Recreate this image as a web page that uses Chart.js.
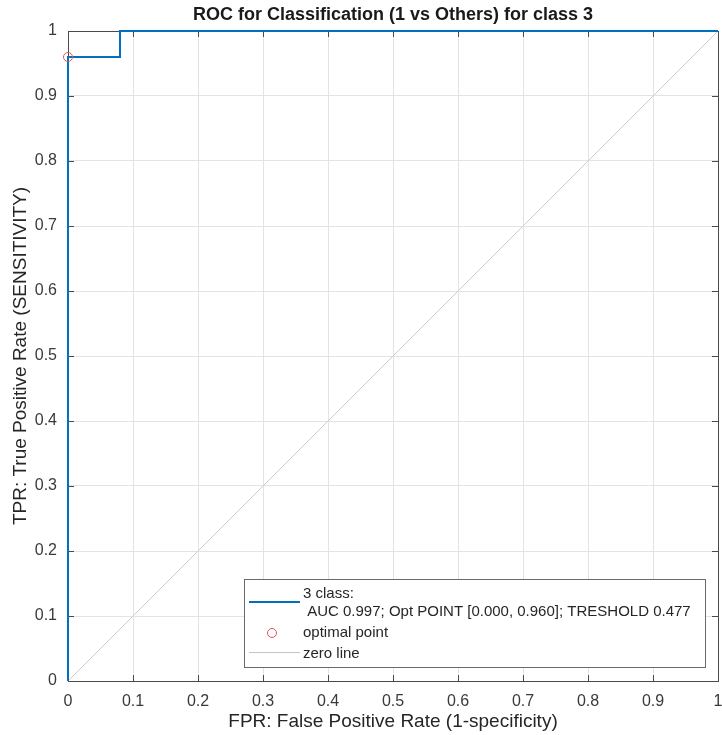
<!DOCTYPE html>
<html>
<head>
<meta charset="utf-8">
<script src="https://cdn.jsdelivr.net/npm/chart.js@4"></script>
<style>
  html, body { margin: 0; padding: 0; background: #fff; }
  #wrap { width: 722px; height: 735px; }
</style>
</head>
<body>
<div id="wrap"><canvas id="chart1" width="722" height="735"></canvas></div>
<script>
// data
var rocFpr = [0, 0, 0.08, 0.08, 1];
var rocTpr = [0, 0.96, 0.96, 1, 1];
var optFpr = [0];
var optTpr = [0.96];
var zeroX = [0, 1];
var zeroY = [0, 1];
var tickLabels = ['0', '0.1', '0.2', '0.3', '0.4', '0.5', '0.6', '0.7', '0.8', '0.9', '1'];
var legendLabels = ['3 class:', ' AUC 0.997; Opt POINT [0.000, 0.960]; TRESHOLD 0.477', 'optimal point', 'zero line'];
var titleText = 'ROC for Classification (1 vs Others) for class 3';
var xTitle = 'FPR: False Positive Rate (1-specificity)';
var yTitle = 'TPR: True Positive Rate (SENSITIVITY)';

function pts(xs, ys) {
  return xs.map(function(x, i){ return {x: x, y: ys[i]}; });
}
function tickLabel(v) {
  var i = Math.round(v * 10);
  return (Math.abs(v * 10 - i) < 1e-6) ? tickLabels[i] : '';
}

var FONT = '"Liberation Sans", Arial, sans-serif';
var BLUE = 'rgb(0,114,189)';
var RED = '#e0525a';

var decor = {
  id: 'decor',
  beforeDatasetsDraw: function(chart) {
    var ctx = chart.ctx, a = chart.chartArea;
    var xs = chart.scales.x, ys = chart.scales.y;
    ctx.save();
    // inward tick marks on all four sides
    ctx.strokeStyle = '#4a4a4a';
    ctx.lineWidth = 1;
    ctx.beginPath();
    for (var i = 0; i < tickLabels.length; i++) {
      var px = Math.round(xs.getPixelForValue(i / 10)) + 0.5;
      var py = Math.round(ys.getPixelForValue(i / 10)) + 0.5;
      ctx.moveTo(px, a.bottom); ctx.lineTo(px, a.bottom - 6);
      ctx.moveTo(px, a.top); ctx.lineTo(px, a.top + 6);
      ctx.moveTo(a.left, py); ctx.lineTo(a.left + 6, py);
      ctx.moveTo(a.right, py); ctx.lineTo(a.right - 6, py);
    }
    ctx.stroke();
    ctx.restore();
  },
  afterDraw: function(chart) {
    var ctx = chart.ctx, a = chart.chartArea;
    ctx.save();
    // box
    ctx.strokeStyle = '#4a4a4a';
    ctx.lineWidth = 1;
    ctx.strokeRect(Math.round(a.left) + 0.5, Math.round(a.top) + 0.5, Math.round(a.right - a.left), Math.round(a.bottom - a.top));
    // ROC again so it sits over the box
    var meta = chart.getDatasetMeta(0);
    ctx.strokeStyle = BLUE;
    ctx.lineWidth = 2;
    ctx.beginPath();
    meta.data.forEach(function(p, i){ if (i === 0) ctx.moveTo(p.x, p.y); else ctx.lineTo(p.x, p.y); });
    ctx.stroke();
    // optimal point
    var op = chart.getDatasetMeta(1).data[0];
    ctx.strokeStyle = RED;
    ctx.lineWidth = 1;
    ctx.beginPath(); ctx.arc(op.x, op.y, 4.5, 0, Math.PI * 2); ctx.stroke();

    // titles
    ctx.fillStyle = '#1a1a1a';
    ctx.font = 'bold 18px ' + FONT;
    ctx.textAlign = 'center';
    ctx.textBaseline = 'middle';
    ctx.fillText(titleText, (a.left + a.right) / 2, 15);
    ctx.fillStyle = '#262626';
    ctx.font = '19px ' + FONT;
    ctx.fillText(xTitle, (a.left + a.right) / 2, 722);
    ctx.save();
    ctx.translate(21, (a.top + a.bottom) / 2);
    ctx.rotate(-Math.PI / 2);
    ctx.fillText(yTitle, 0, 0);
    ctx.restore();

    // legend
    var lx = 244, ly = 579, lw = 461, lh = 88;
    ctx.fillStyle = '#fff';
    ctx.fillRect(lx, ly, lw, lh);
    ctx.strokeStyle = '#6a6a6a';
    ctx.strokeRect(lx + 0.5, ly + 0.5, lw, lh);
    ctx.font = '15px ' + FONT;
    ctx.fillStyle = '#262626';
    ctx.textAlign = 'left';
    ctx.textBaseline = 'middle';
    ctx.fillText(legendLabels[0], 303, 594);
    ctx.fillText(legendLabels[1], 303, 612);
    ctx.fillText(legendLabels[2], 303, 633);
    ctx.fillText(legendLabels[3], 303, 654);
    ctx.strokeStyle = BLUE; ctx.lineWidth = 2;
    ctx.beginPath(); ctx.moveTo(249, 602); ctx.lineTo(300, 602); ctx.stroke();
    ctx.strokeStyle = RED; ctx.lineWidth = 1;
    ctx.beginPath(); ctx.arc(272, 633, 4.5, 0, Math.PI * 2); ctx.stroke();
    ctx.strokeStyle = '#c4c4c4';
    ctx.beginPath(); ctx.moveTo(249, 652.5); ctx.lineTo(300, 652.5); ctx.stroke();
    ctx.restore();
  }
};

new Chart(document.getElementById('chart1'), {
  type: 'scatter',
  data: {
    datasets: [
      { label: 'roc', data: pts(rocFpr, rocTpr), showLine: true, borderColor: BLUE, borderWidth: 2, pointRadius: 0, fill: false, tension: 0 },
      { label: 'opt', data: pts(optFpr, optTpr), showLine: false, pointRadius: 0, borderColor: RED, backgroundColor: 'transparent' },
      { label: 'zero', data: pts(zeroX, zeroY), showLine: true, borderColor: '#cfcfcf', borderWidth: 1, pointRadius: 0, fill: false, order: 5 }
    ]
  },
  options: {
    responsive: false,
    animation: false,
    clip: false,
    layout: { padding: { left: 0, right: 4, top: 31, bottom: 0 } },
    plugins: { legend: { display: false }, tooltip: { enabled: false } },
    scales: {
      x: {
        type: 'linear', min: 0, max: 1,
        afterFit: function(s) { s.height = 54; s.paddingRight = 0; s.paddingLeft = 0; },
        grid: { color: '#e3e3e3', drawTicks: false },
        border: { display: false },
        ticks: { stepSize: 0.1, padding: 11, color: '#3a3a3a', font: { family: FONT, size: 16 }, maxRotation: 0, autoSkip: false, callback: tickLabel }
      },
      y: {
        type: 'linear', min: 0, max: 1,
        afterFit: function(s) { s.width = 68; s.paddingTop = 0; s.paddingBottom = 0; },
        grid: { color: '#e3e3e3', drawTicks: false },
        border: { display: false },
        ticks: { stepSize: 0.1, padding: 11, color: '#3a3a3a', font: { family: FONT, size: 16 }, autoSkip: false, callback: tickLabel }
      }
    }
  },
  plugins: [decor]
});
</script>
</body>
</html>
